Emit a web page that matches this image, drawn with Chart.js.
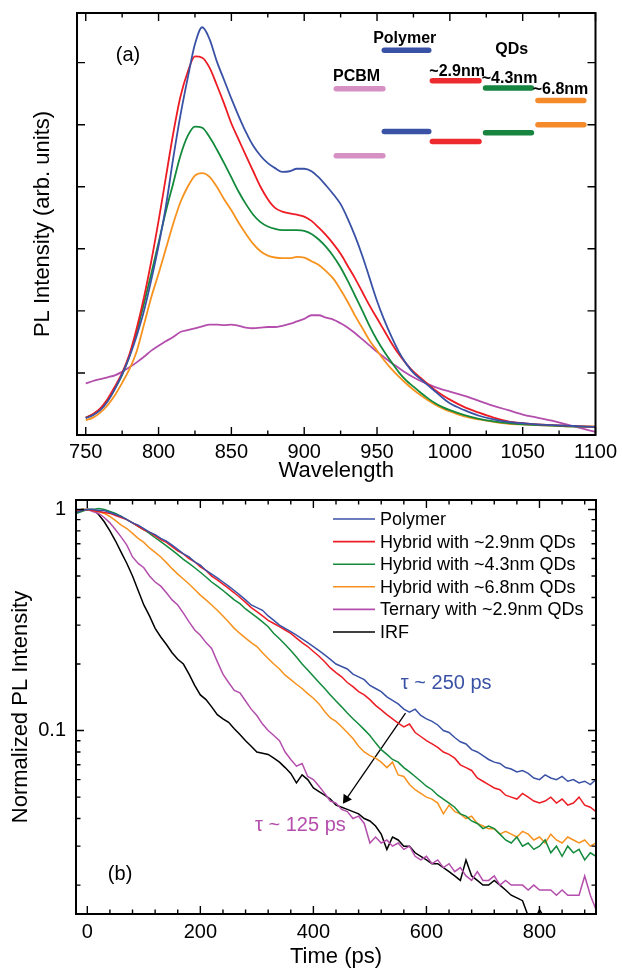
<!DOCTYPE html>
<html>
<head>
<meta charset="utf-8">
<script src="https://cdn.jsdelivr.net/npm/chart.js@4.4.1/dist/chart.umd.min.js"></script>
<style>
  html, body { margin: 0; padding: 0; background: #fff; }
  #wrap { position: relative; width: 622px; height: 968px; overflow: hidden; }
  canvas { position: absolute; left: 0; }
  #plChart { top: 0; }
  #decayChart { top: 478px; }
</style>
</head>
<body>
<div id="wrap">
  <canvas id="plChart" width="622" height="490"></canvas>
  <canvas id="decayChart" width="622" height="490"></canvas>
</div>
<script>
// ---- panel (a): PL spectra ----
const wavelength = [
  750, 755, 760, 765, 770, 775, 780, 785, 790, 795,
  800, 805, 810, 815, 820, 825, 830, 835, 840, 845,
  850, 855, 860, 865, 870, 875, 880, 885, 890, 895,
  900, 905, 910, 915, 920, 925, 930, 935, 940, 945,
  950, 955, 960, 965, 970, 975, 980, 985, 990, 995,
  1000, 1010, 1020, 1030, 1040, 1050, 1060, 1070, 1080, 1090,
  1100
];
const plPolymer = [
  0.27, 0.32, 0.40, 0.54, 0.74, 0.98, 1.26, 1.60, 2.00, 2.50,
  3.05, 3.68, 4.45, 5.15, 5.75, 6.30, 6.57, 6.38, 6.02, 5.72,
  5.42, 5.14, 4.88, 4.66, 4.50, 4.38, 4.30, 4.24, 4.25, 4.29,
  4.29, 4.25, 4.15, 4.02, 3.88, 3.72, 3.48, 3.20, 2.88, 2.52,
  2.16, 1.85, 1.58, 1.34, 1.15, 1.00, 0.90, 0.80, 0.70, 0.60,
  0.51, 0.40, 0.31, 0.25, 0.21, 0.19, 0.17, 0.16, 0.15, 0.14,
  0.13
];
const plQd29 = [
  0.28, 0.34, 0.43, 0.58, 0.78, 1.00, 1.30, 1.72, 2.22, 2.80,
  3.45, 4.15, 4.85, 5.45, 5.85, 6.10, 6.08, 5.92, 5.64, 5.34,
  5.02, 4.76, 4.50, 4.25, 4.00, 3.80, 3.66, 3.60, 3.57, 3.55,
  3.52, 3.45, 3.34, 3.22, 3.08, 2.92, 2.72, 2.52, 2.30, 2.08,
  1.88, 1.68, 1.48, 1.30, 1.15, 1.02, 0.92, 0.82, 0.72, 0.64,
  0.57, 0.45, 0.36, 0.28, 0.22, 0.19, 0.17, 0.16, 0.15, 0.14,
  0.13
];
const plQd43 = [
  0.28, 0.33, 0.42, 0.56, 0.75, 0.97, 1.27, 1.67, 2.12, 2.60,
  3.10, 3.60, 4.05, 4.50, 4.82, 4.97, 4.95, 4.80, 4.60, 4.38,
  4.15, 3.92, 3.72, 3.55, 3.43, 3.36, 3.32, 3.30, 3.30, 3.30,
  3.29, 3.24, 3.15, 3.03, 2.88, 2.70, 2.48, 2.24, 2.00, 1.75,
  1.53, 1.34, 1.17, 1.01, 0.88, 0.78, 0.68, 0.59, 0.51, 0.45,
  0.40, 0.32, 0.26, 0.22, 0.19, 0.17, 0.16, 0.15, 0.14, 0.135,
  0.13
];
const plQd68 = [
  0.24, 0.28, 0.36, 0.48, 0.64, 0.84, 1.06, 1.35, 1.78, 2.22,
  2.60, 3.00, 3.40, 3.75, 4.00, 4.18, 4.22, 4.16, 4.00, 3.80,
  3.62, 3.42, 3.24, 3.08, 2.96, 2.89, 2.86, 2.85, 2.85, 2.87,
  2.86, 2.80, 2.74, 2.64, 2.52, 2.34, 2.14, 1.92, 1.72, 1.52,
  1.36, 1.20, 1.06, 0.94, 0.83, 0.73, 0.64, 0.56, 0.49, 0.43,
  0.38, 0.30, 0.25, 0.21, 0.18, 0.17, 0.16, 0.15, 0.14, 0.14,
  0.14
];
const plTernary = [
  0.83, 0.87, 0.90, 0.93, 0.96, 1.02, 1.09, 1.17, 1.26, 1.36,
  1.44, 1.51, 1.58, 1.66, 1.69, 1.72, 1.75, 1.78, 1.78, 1.77,
  1.78, 1.76, 1.73, 1.72, 1.73, 1.74, 1.74, 1.76, 1.79, 1.83,
  1.87, 1.93, 1.93, 1.89, 1.86, 1.80, 1.73, 1.64, 1.54, 1.44,
  1.34, 1.25, 1.16, 1.08, 1.00, 0.93, 0.87, 0.82, 0.77, 0.73,
  0.70, 0.63, 0.55, 0.47, 0.40, 0.33, 0.28, 0.23, 0.17, 0.11,
  0.05
];
const wlTicks = [750, 775, 800, 825, 850, 875, 900, 925, 950, 975, 1000, 1025, 1050, 1075, 1100];
const plTicks = [0, 1, 2, 3, 4, 5, 6];

// energy levels drawn inside panel (a)
const levelNames = ['PCBM', 'Polymer', '~2.9nm', '~4.3nm', '~6.8nm'];
const levelStart = [922, 955, 988, 1024.5, 1060.5];
const levelEnd = [954, 985.5, 1020, 1056, 1092];
const levelUpper = [5.58, 6.20, 5.71, 5.59, 5.39];
const levelLower = [4.50, 4.89, 4.73, 4.87, 5.00];

const notesA = ['(a)', 'PCBM', 'Polymer', 'QDs', '~2.9nm', '~4.3nm', '~6.8nm'];
const notesAx = [779, 936, 969, 1042.5, 1005, 1041, 1076];
const notesAy = [6.12, 5.78, 6.38, 6.21, 5.86, 5.75, 5.56];

// ---- panel (b): PL decay ----
const decayTime = [
  -20, -10, 0, 10, 20, 30, 40, 50, 60, 70,
  80, 90, 100, 110, 120, 130, 140, 150, 160, 170,
  180, 190, 200, 210, 220, 230, 240, 250, 260, 270,
  280, 290, 300, 310, 320, 330, 340, 350, 360, 370,
  380, 390, 400, 410, 420, 430, 440, 450, 460, 470,
  480, 490, 500, 510, 520, 530, 540, 550, 560, 570,
  580, 590, 600, 610, 620, 630, 640, 650, 660, 670,
  680, 690, 700, 710, 720, 730, 740, 750, 760, 770,
  780, 790, 800, 810, 820, 830, 840, 850, 860, 870,
  880, 890, 900
];
const decayPolymer = [
  0.97, 0.99, 1.00, 1.00, 0.99, 0.99, 0.97, 0.95, 0.93, 0.90,
  0.87, 0.85, 0.82, 0.79, 0.77, 0.74, 0.72, 0.69, 0.66, 0.63,
  0.61, 0.58, 0.56, 0.53, 0.51, 0.49, 0.47, 0.45, 0.43, 0.41,
  0.39, 0.37, 0.36, 0.35, 0.33, 0.315, 0.30, 0.29, 0.28, 0.27,
  0.26, 0.25, 0.24, 0.23, 0.22, 0.21, 0.20, 0.195, 0.19, 0.18,
  0.175, 0.17, 0.16, 0.155, 0.15, 0.142, 0.137, 0.132, 0.125, 0.121,
  0.125, 0.117, 0.113, 0.110, 0.106, 0.100, 0.098, 0.093, 0.089, 0.087,
  0.082, 0.080, 0.077, 0.074, 0.072, 0.071, 0.068, 0.067, 0.065, 0.066,
  0.064, 0.061, 0.060, 0.063, 0.061, 0.060, 0.062, 0.059, 0.060, 0.058,
  0.059, 0.057, 0.060
];
const decayQd29 = [
  0.98, 0.99, 1.00, 0.99, 0.98, 0.97, 0.96, 0.94, 0.92, 0.90,
  0.87, 0.84, 0.81, 0.79, 0.76, 0.73, 0.71, 0.68, 0.65, 0.63,
  0.60, 0.58, 0.55, 0.53, 0.50, 0.48, 0.46, 0.44, 0.42, 0.40,
  0.38, 0.36, 0.345, 0.33, 0.315, 0.305, 0.295, 0.285, 0.275, 0.262,
  0.25, 0.24, 0.228, 0.217, 0.205, 0.192, 0.183, 0.175, 0.165, 0.158,
  0.15, 0.145, 0.138, 0.13, 0.124, 0.118, 0.113, 0.108, 0.104, 0.107,
  0.098, 0.094, 0.090, 0.087, 0.084, 0.080, 0.078, 0.075, 0.070, 0.068,
  0.066, 0.061, 0.059, 0.057, 0.055, 0.054, 0.051, 0.050, 0.049, 0.052,
  0.050, 0.048, 0.047, 0.048, 0.050, 0.047, 0.049, 0.046, 0.047, 0.050,
  0.046, 0.045, 0.043
];
const decayQd43 = [
  0.96, 0.98, 1.00, 1.00, 1.01, 1.00, 0.98, 0.96, 0.93, 0.90,
  0.87, 0.84, 0.81, 0.78, 0.745, 0.715, 0.685, 0.655, 0.625, 0.595,
  0.57, 0.545, 0.52, 0.495, 0.47, 0.45, 0.43, 0.41, 0.39, 0.375,
  0.355, 0.34, 0.325, 0.31, 0.295, 0.275, 0.26, 0.245, 0.23, 0.215,
  0.20, 0.188, 0.176, 0.165, 0.155, 0.145, 0.136, 0.128, 0.12, 0.113,
  0.107, 0.101, 0.095, 0.088, 0.082, 0.078, 0.074, 0.072, 0.068, 0.065,
  0.062, 0.059, 0.056, 0.054, 0.051, 0.049, 0.047, 0.045, 0.042, 0.041,
  0.039, 0.038, 0.036, 0.037, 0.036, 0.034, 0.032, 0.031, 0.033, 0.030,
  0.031, 0.029, 0.030, 0.032, 0.028, 0.030, 0.027, 0.030, 0.028, 0.029,
  0.026, 0.028, 0.027
];
const decayQd68 = [
  0.99, 1.00, 1.00, 0.99, 0.98, 0.96, 0.93, 0.89, 0.85, 0.82,
  0.78, 0.74, 0.71, 0.67, 0.64, 0.61, 0.575, 0.54, 0.51, 0.485,
  0.46, 0.435, 0.41, 0.39, 0.37, 0.35, 0.33, 0.31, 0.29, 0.275,
  0.262, 0.25, 0.24, 0.225, 0.212, 0.20, 0.19, 0.178, 0.17, 0.162,
  0.155, 0.147, 0.14, 0.132, 0.122, 0.114, 0.11, 0.104, 0.098, 0.092,
  0.085, 0.08, 0.077, 0.075, 0.072, 0.068, 0.072, 0.063, 0.062, 0.057,
  0.054, 0.052, 0.05, 0.049, 0.047, 0.042, 0.046, 0.043, 0.042, 0.040,
  0.041, 0.038, 0.037, 0.036, 0.036, 0.034, 0.035, 0.034, 0.033, 0.035,
  0.034, 0.032, 0.033, 0.031, 0.034, 0.032, 0.031, 0.033, 0.032, 0.031,
  0.032, 0.030, 0.031
];
const decayTernary = [
  0.97, 0.99, 1.00, 0.98, 0.96, 0.92, 0.87, 0.81, 0.75, 0.69,
  0.61, 0.57, 0.545, 0.50, 0.47, 0.45, 0.42, 0.39, 0.37, 0.34,
  0.31, 0.285, 0.27, 0.25, 0.235, 0.205, 0.18, 0.165, 0.152, 0.148,
  0.136, 0.125, 0.117, 0.107, 0.10, 0.095, 0.09, 0.08, 0.074, 0.069,
  0.071, 0.062, 0.06, 0.056, 0.052, 0.048, 0.047, 0.044, 0.043, 0.040,
  0.041, 0.038, 0.031, 0.033, 0.031, 0.032, 0.030, 0.031, 0.029, 0.030,
  0.027, 0.026, 0.027, 0.025, 0.026, 0.024, 0.025, 0.023, 0.024, 0.022,
  0.021, 0.023, 0.021, 0.021, 0.022, 0.020, 0.021, 0.020, 0.020, 0.020,
  0.019, 0.020, 0.019, 0.019, 0.019, 0.018, 0.019, 0.018, 0.018, 0.018,
  0.022, 0.018, 0.0155
];
const decayIrf = [
  0.99, 1.00, 1.00, 1.00, 0.95, 0.88, 0.80, 0.72, 0.64, 0.57,
  0.50, 0.43, 0.37, 0.33, 0.29, 0.265, 0.245, 0.225, 0.21, 0.20,
  0.18, 0.16, 0.145, 0.138, 0.128, 0.118, 0.113, 0.109, 0.102, 0.096,
  0.090, 0.085, 0.080, 0.079, 0.078, 0.075, 0.072, 0.068, 0.064, 0.058,
  0.063, 0.060, 0.055, 0.053, 0.051, 0.049, 0.046, 0.045, 0.044, 0.043,
  0.042, 0.040, 0.039, 0.037, 0.034, 0.029, 0.033, 0.032, 0.030, 0.030,
  0.028, 0.027, 0.026, 0.025, 0.025, 0.024, 0.023, 0.022, 0.021, 0.026,
  0.022, 0.021, 0.020, 0.020, 0.021, 0.020, 0.019, 0.018, 0.0175, 0.017,
  0.0145, 0.0135, 0.0155, 0.014, 0.0135, 0.013, 0.0125, 0.012, 0.0125, 0.012,
  0.0115, 0.011, 0.011
];
const timeTicks = [0, 40, 80, 120, 160, 200, 240, 280, 320, 360, 400, 440, 480, 520, 560, 600, 640, 680, 720, 760, 800, 840, 880];
const decayTicks = [0.02, 0.03, 0.04, 0.05, 0.06, 0.07, 0.08, 0.09, 0.1, 0.2, 0.3, 0.4, 0.5, 0.6, 0.7, 0.8, 0.9, 1];

const arrowTime = [563, 458];
const arrowValue = [0.12, 0.049];

const notesB = ['(b)', 'τ ~ 250 ps', 'τ ~ 125 ps'];
const notesBx = [58, 635, 377];
const notesBy = [0.0223, 0.164, 0.0371];

// ---- styling ----
const FONT = '"Liberation Sans", Arial, Helvetica, sans-serif';
const BLUE = '#3a52a6', RED = '#ed1c24', GREEN = '#138a3c', ORANGE = '#f7921e', MAGENTA = '#b44eac';
const levelColors = ['#d690c3', '#3a52a6', '#ed2a2e', '#17843f', '#f58a2a'];

Chart.defaults.font.family = FONT;
Chart.defaults.color = '#000';
Chart.defaults.animation = false;

function pts(xs, ys) {
  return xs.map((x, i) => ({ x: x, y: ys[i] }));
}

function makeFramePlugin(cfg) {
  return {
    id: 'frameTicks',
    afterDatasetsDraw(chart) {
      const { ctx, chartArea: a } = chart;
      const xs = chart.scales.x, ys = chart.scales.y;
      ctx.save();
      ctx.strokeStyle = '#000';
      ctx.lineWidth = 1.4;
      ctx.beginPath();
      xs.ticks.forEach(t => {
        const p = xs.getPixelForValue(t.value);
        const len = cfg.xMajor(t.value) ? 8 : 4.5;
        ctx.moveTo(p, a.bottom); ctx.lineTo(p, a.bottom - len);
        ctx.moveTo(p, a.top); ctx.lineTo(p, a.top + len);
      });
      ys.ticks.forEach(t => {
        const p = ys.getPixelForValue(t.value);
        const len = cfg.yMajor(t.value) ? 8 : 4.5;
        ctx.moveTo(a.left, p); ctx.lineTo(a.left + len, p);
        ctx.moveTo(a.right, p); ctx.lineTo(a.right - len, p);
      });
      ctx.stroke();
      ctx.lineWidth = 2;
      ctx.strokeRect(a.left, a.top, a.right - a.left, a.bottom - a.top);

      // text notes placed in data coordinates
      ctx.textAlign = 'center';
      ctx.textBaseline = 'middle';
      cfg.notes.forEach(n => {
        ctx.font = n.font;
        ctx.fillStyle = n.color;
        ctx.fillText(n.text, xs.getPixelForValue(n.x), ys.getPixelForValue(n.y));
      });

      // legend inside the plot, top right
      if (cfg.legend) {
        const x0 = a.right - 263;
        let row = 0;
        ctx.font = '18px ' + FONT;
        ctx.textAlign = 'left';
        chart.data.datasets.forEach(ds => {
          if (!ds.label) return;
          const y = a.top + 19 + row * 22.6;
          ctx.strokeStyle = ds.borderColor;
          ctx.lineWidth = 1.6;
          ctx.beginPath();
          ctx.moveTo(x0, y); ctx.lineTo(x0 + 42, y);
          ctx.stroke();
          ctx.fillStyle = '#000';
          ctx.fillText(ds.label, x0 + 47, y + 1);
          row++;
        });
      }
      ctx.restore();
    }
  };
}

// ---- chart (a) ----
const specSeries = [
  { data: plPolymer, color: BLUE },
  { data: plQd29, color: RED },
  { data: plQd43, color: GREEN },
  { data: plQd68, color: ORANGE },
  { data: plTernary, color: MAGENTA }
];
const specDatasets = specSeries.map(s => ({
  data: pts(wavelength, s.data),
  borderColor: s.color,
  borderWidth: 1.8,
  pointRadius: 0,
  fill: false,
  cubicInterpolationMode: 'monotone'
}));
levelNames.forEach((name, i) => {
  [levelUpper[i], levelLower[i]].forEach(level => {
    specDatasets.push({
      data: [{ x: levelStart[i], y: level }, { x: levelEnd[i], y: level }],
      borderColor: levelColors[i],
      borderWidth: 5.5,
      borderCapStyle: 'round',
      pointRadius: 0,
      fill: false
    });
  });
});

const notesAList = notesA.map((t, i) => ({
  text: t, x: notesAx[i], y: notesAy[i], color: '#000',
  font: i === 0 ? '20px ' + FONT : 'bold 16px ' + FONT
}));

new Chart(document.getElementById('plChart'), {
  type: 'line',
  data: { datasets: specDatasets },
  options: {
    responsive: false,
    devicePixelRatio: 1,
    layout: { padding: { top: 13, right: 23, left: 0, bottom: 0 } },
    plugins: { legend: { display: false }, tooltip: { enabled: false } },
    scales: {
      x: {
        type: 'linear', min: 744, max: 1100,
        afterBuildTicks: scale => { scale.ticks = wlTicks.map(v => ({ value: v })); },
        afterFit: scale => { scale.height = 55; },
        grid: { display: false, drawTicks: false },
        border: { display: false },
        ticks: {
          autoSkip: false, maxRotation: 0, padding: 5,
          font: { size: 20 },
          callback: v => (v % 50 === 0 ? String(v) : '')
        },
        title: { display: true, text: 'Wavelength', font: { size: 22 }, padding: { top: 0, bottom: 6 } }
      },
      y: {
        type: 'linear', min: 0, max: 6.8,
        afterBuildTicks: scale => { scale.ticks = plTicks.map(v => ({ value: v })); },
        afterFit: scale => { scale.width = 77; },
        grid: { display: false, drawTicks: false },
        border: { display: false },
        ticks: { display: false },
        title: { display: true, text: 'PL Intensity (arb. units)', font: { size: 22 }, padding: { top: 30, bottom: 0 } }
      }
    }
  },
  plugins: [makeFramePlugin({
    xMajor: v => v % 50 === 0,
    yMajor: () => true,
    notes: notesAList,
    legend: false
  })]
});

// ---- chart (b) ----
const decaySeries = [
  { label: 'Polymer', data: decayPolymer, color: BLUE },
  { label: 'Hybrid with ~2.9nm QDs', data: decayQd29, color: RED },
  { label: 'Hybrid with ~4.3nm QDs', data: decayQd43, color: GREEN },
  { label: 'Hybrid with ~6.8nm QDs', data: decayQd68, color: ORANGE },
  { label: 'Ternary with ~2.9nm QDs', data: decayTernary, color: MAGENTA },
  { label: 'IRF', data: decayIrf, color: '#000' }
];
const decayDatasets = decaySeries.map(s => ({
  label: s.label,
  data: pts(decayTime, s.data),
  borderColor: s.color,
  borderWidth: 1.5,
  pointRadius: 0,
  fill: false,
  tension: 0
}));
decayDatasets.push({
  data: pts(arrowTime, arrowValue),
  borderColor: '#000',
  backgroundColor: '#000',
  borderWidth: 1.3,
  pointRadius: [0, 4.5],
  pointStyle: 'triangle',
  pointRotation: 214,
  fill: false
});

const notesBList = notesB.map((t, i) => ({
  text: t, x: notesBx[i], y: notesBy[i],
  color: i === 0 ? '#000' : (i === 1 ? BLUE : MAGENTA),
  font: '20px ' + FONT
}));

new Chart(document.getElementById('decayChart'), {
  type: 'line',
  data: { datasets: decayDatasets },
  options: {
    responsive: false,
    devicePixelRatio: 1,
    layout: { padding: { top: 13, right: 26, left: 0, bottom: 0 } },
    plugins: { legend: { display: false }, tooltip: { enabled: false } },
    scales: {
      x: {
        type: 'linear', min: -20, max: 900,
        afterBuildTicks: scale => { scale.ticks = timeTicks.map(v => ({ value: v })); },
        afterFit: scale => { scale.height = 54; },
        grid: { display: false, drawTicks: false },
        border: { display: false },
        ticks: {
          autoSkip: false, maxRotation: 0, padding: 6,
          font: { size: 20 },
          callback: v => (v % 200 === 0 ? String(v) : '')
        },
        title: { display: true, text: 'Time (ps)', font: { size: 22, lineHeight: 1 }, padding: { top: 0, bottom: 0 } }
      },
      y: {
        type: 'logarithmic', min: 0.0148, max: 1.104,
        afterBuildTicks: scale => { scale.ticks = decayTicks.map(v => ({ value: v })); },
        afterFit: scale => { scale.width = 76; },
        grid: { display: false, drawTicks: false },
        border: { display: false },
        ticks: {
          autoSkip: false, padding: 10,
          font: { size: 20 },
          callback: v => (v === 1 ? '1' : (v === 0.1 ? '0.1' : ''))
        },
        title: { display: true, text: 'Normalized PL Intensity', font: { size: 22 }, padding: { top: 8, bottom: 0 } }
      }
    }
  },
  plugins: [makeFramePlugin({
    xMajor: v => v % 200 === 0,
    yMajor: v => v === 1 || v === 0.1,
    notes: notesBList,
    legend: true
  })]
});
</script>
</body>
</html>
